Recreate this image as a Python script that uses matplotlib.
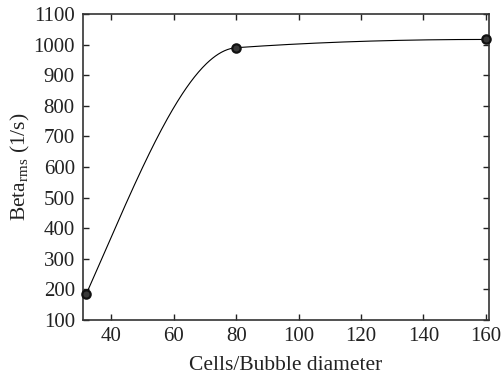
import numpy as np
import matplotlib
matplotlib.use("Agg")
import matplotlib.pyplot as plt

cells = [32, 80, 160]
beta_rms = [185, 990, 1017]
xticks = [40, 60, 80, 100, 120, 140, 160]
yticks = [100, 200, 300, 400, 500, 600, 700, 800, 900, 1000, 1100]

plt.rcParams['font.family'] = ['Liberation Serif', 'DejaVu Serif']
plt.rcParams['mathtext.fontset'] = 'custom'
plt.rcParams['mathtext.rm'] = 'Liberation Serif'
plt.rcParams['mathtext.it'] = 'Liberation Serif:italic'


def pchip(x, y, xq):
    x = np.asarray(x, float)
    y = np.asarray(y, float)
    h = np.diff(x)
    d = np.diff(y) / h
    n = len(x)
    m = np.zeros(n)
    for k in range(1, n - 1):
        if d[k - 1] * d[k] > 0:
            w1 = 2 * h[k] + h[k - 1]
            w2 = h[k] + 2 * h[k - 1]
            m[k] = (w1 + w2) / (w1 / d[k - 1] + w2 / d[k])
    def end(h0, h1, d0, d1):
        s = ((2 * h0 + h1) * d0 - h0 * d1) / (h0 + h1)
        if np.sign(s) != np.sign(d0):
            s = 0
        elif np.sign(d0) != np.sign(d1) and abs(s) > abs(3 * d0):
            s = 3 * d0
        return s
    m[0] = end(h[0], h[1], d[0], d[1])
    m[-1] = end(h[-1], h[-2], d[-1], d[-2])
    xq = np.asarray(xq, float)
    idx = np.clip(np.searchsorted(x, xq) - 1, 0, n - 2)
    t = (xq - x[idx]) / h[idx]
    h00 = 2 * t**3 - 3 * t**2 + 1
    h10 = t**3 - 2 * t**2 + t
    h01 = -2 * t**3 + 3 * t**2
    h11 = t**3 - t**2
    return h00 * y[idx] + h10 * h[idx] * m[idx] + h01 * y[idx + 1] + h11 * h[idx] * m[idx + 1]


fig = plt.figure(figsize=(5.01, 3.80), dpi=100)
ax = fig.add_axes([0.166, 0.158, 0.810, 0.805])

xs = np.linspace(cells[0], cells[-1], 400)
ax.plot(xs, pchip(cells, beta_rms, xs), color='black', lw=0.8)
ax.plot(cells, beta_rms, 'o', ms=6, mfc='#383838', mec='#111111', mew=1.6, clip_on=False, zorder=3)

ax.set_xlim(31, 161)
ax.set_ylim(100, 1100)
ax.set_xticks(xticks)
ax.set_yticks(yticks)
ax.tick_params(direction='in', length=4, width=1, top=True, right=True,
               labelsize=15, colors='#222222')
ax.tick_params(axis='x', pad=5)
ax.tick_params(axis='y', pad=6)
for s in ax.spines.values():
    s.set_linewidth(1.2)
    s.set_color('#333333')

ax.set_xlabel('Cells/Bubble diameter', fontsize=15.5, color='#222222', labelpad=7)
ax.set_ylabel(r'Beta$_{\mathrm{rms}}$ (1/s)', fontsize=15.5, color='#222222', labelpad=1)

fig.savefig('out.png', dpi=100)
